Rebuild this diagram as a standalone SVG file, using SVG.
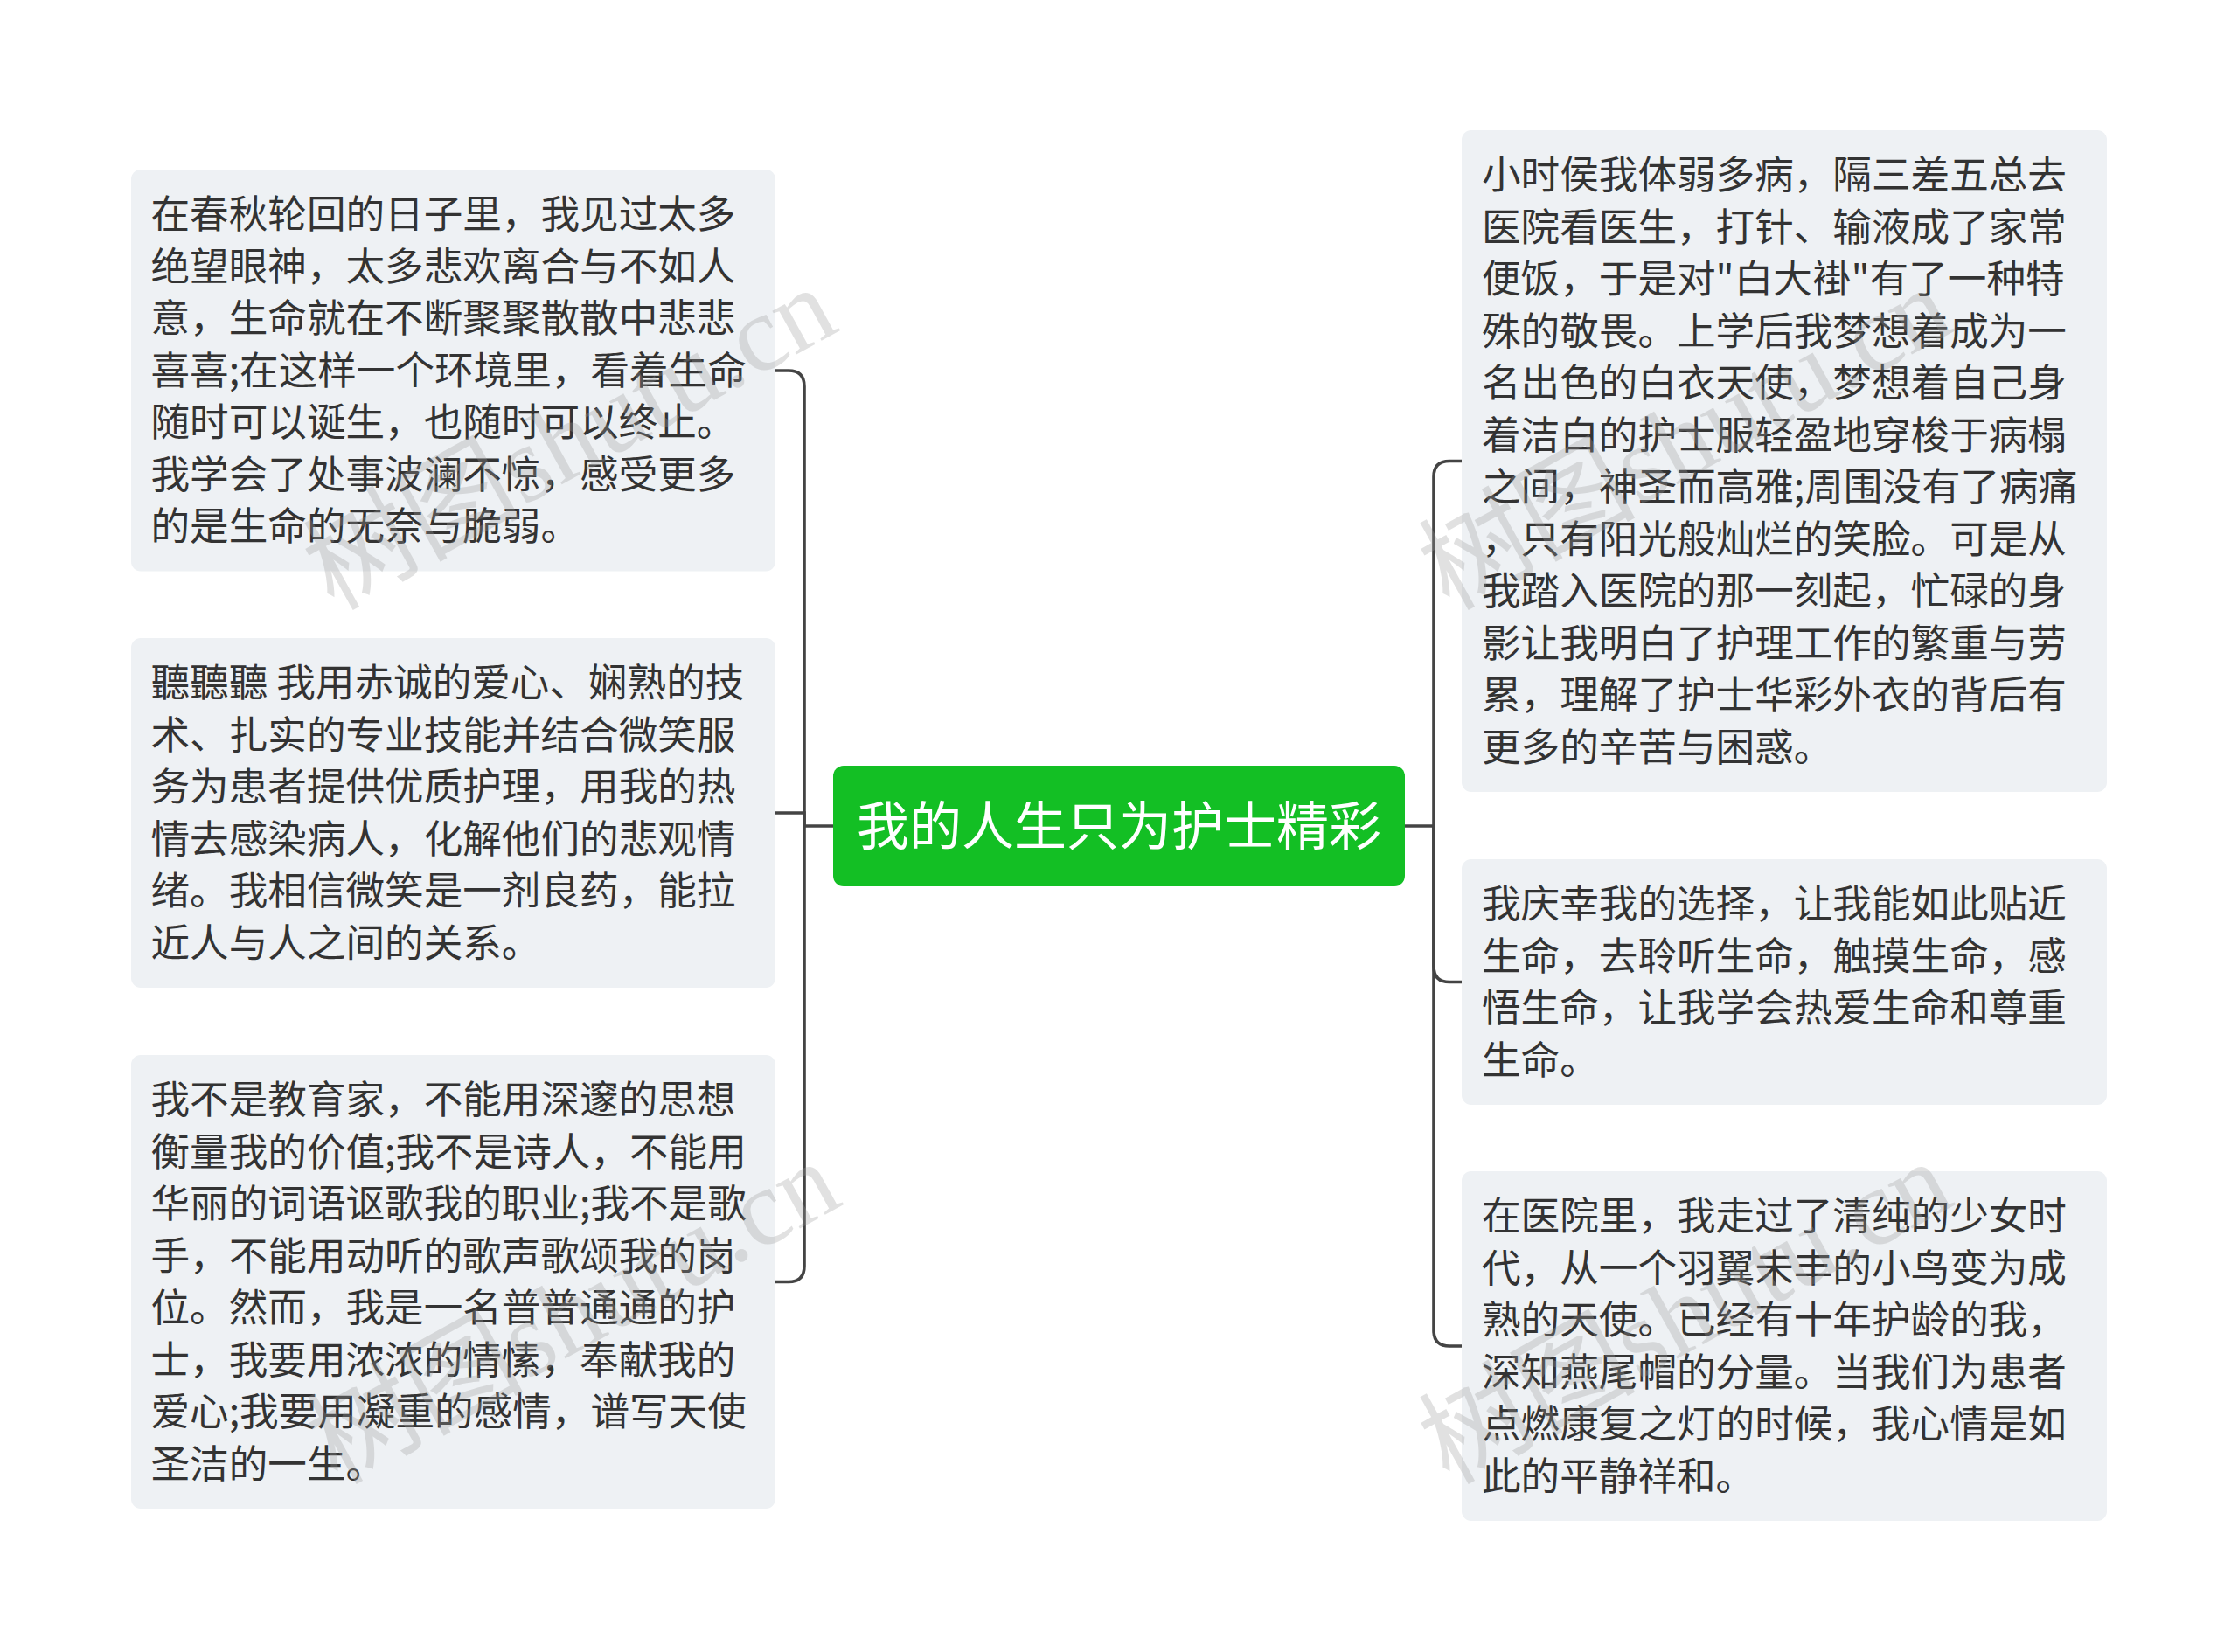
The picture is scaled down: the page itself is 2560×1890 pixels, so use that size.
<svg xmlns="http://www.w3.org/2000/svg" width="2560" height="1890" viewBox="0 0 2560 1890">
<style>
.box{fill:#eef1f4}
.t{font-family:"Noto Sans CJK SC","Noto Sans",sans-serif;font-size:44.6px;fill:#333}
.ct{font-family:"Noto Sans CJK SC","Noto Sans",sans-serif;font-size:60px;fill:#fff;text-anchor:middle}
.c{fill:none;stroke:#444;stroke-width:3.6}
.wm{font-family:"Liberation Serif","Noto Sans CJK SC",serif;font-size:124px;fill:#9a9a9a;fill-opacity:0.3}
</style>
<rect width="2560" height="1890" fill="#fff"/>
<g id="connectors">
<path class="c" d="M953 945 H920"/>
<path class="c" d="M920 945 V442 Q920 424 902 424 H887"/>
<path class="c" d="M920 945 V930 H887"/>
<path class="c" d="M920 945 V1448.5 Q920 1466.5 902 1466.5 H887"/>
<path class="c" d="M1607 945 H1640"/>
<path class="c" d="M1640 945 V545.5 Q1640 527.5 1658 527.5 H1672"/>
<path class="c" d="M1640 945 V1105.5 Q1640 1123.5 1658 1123.5 H1672"/>
<path class="c" d="M1640 945 V1522 Q1640 1540 1658 1540 H1672"/>
</g>
<g id="center">
<rect x="953" y="876" width="654" height="138" rx="12" fill="#13bf24"/>
<text class="ct" x="1280" y="967">我的人生只为护士精彩</text>
</g>
<g id="L1">
<rect class="box" x="150" y="194" width="737" height="459.5" rx="11"/>
<text class="t"><tspan x="172.5" y="261">在春秋轮回的日子里，我见过太多</tspan><tspan x="172.5" y="320.5">绝望眼神，太多悲欢离合与不如人</tspan><tspan x="172.5" y="380">意，生命就在不断聚聚散散中悲悲</tspan><tspan x="172.5" y="439.5">喜喜;在这样一个环境里，看着生命</tspan><tspan x="172.5" y="499">随时可以诞生，也随时可以终止。</tspan><tspan x="172.5" y="558.5">我学会了处事波澜不惊，感受更多</tspan><tspan x="172.5" y="618">的是生命的无奈与脆弱。</tspan></text>
</g>
<g id="L2">
<rect class="box" x="150" y="730" width="737" height="400" rx="11"/>
<text class="t"><tspan x="172.5" y="797">聽聽聽 我用赤诚的爱心、娴熟的技</tspan><tspan x="172.5" y="856.5">术、扎实的专业技能并结合微笑服</tspan><tspan x="172.5" y="916">务为患者提供优质护理，用我的热</tspan><tspan x="172.5" y="975.5">情去感染病人，化解他们的悲观情</tspan><tspan x="172.5" y="1035">绪。我相信微笑是一剂良药，能拉</tspan><tspan x="172.5" y="1094.5">近人与人之间的关系。</tspan></text>
</g>
<g id="L3">
<rect class="box" x="150" y="1207" width="737" height="519" rx="11"/>
<text class="t"><tspan x="172.5" y="1274">我不是教育家，不能用深邃的思想</tspan><tspan x="172.5" y="1333.5">衡量我的价值;我不是诗人，不能用</tspan><tspan x="172.5" y="1393">华丽的词语讴歌我的职业;我不是歌</tspan><tspan x="172.5" y="1452.5">手，不能用动听的歌声歌颂我的岗</tspan><tspan x="172.5" y="1512">位。然而，我是一名普普通通的护</tspan><tspan x="172.5" y="1571.5">士，我要用浓浓的情愫，奉献我的</tspan><tspan x="172.5" y="1631">爱心;我要用凝重的感情，谱写天使</tspan><tspan x="172.5" y="1690.5">圣洁的一生。</tspan></text>
</g>
<g id="R1">
<rect class="box" x="1672" y="149" width="738" height="757" rx="11"/>
<text class="t"><tspan x="1695" y="216">小时侯我体弱多病，隔三差五总去</tspan><tspan x="1695" y="275.5">医院看医生，打针、输液成了家常</tspan><tspan x="1695" y="335">便饭，于是对"白大褂"有了一种特</tspan><tspan x="1695" y="394.5">殊的敬畏。上学后我梦想着成为一</tspan><tspan x="1695" y="454">名出色的白衣天使，梦想着自己身</tspan><tspan x="1695" y="513.5">着洁白的护士服轻盈地穿梭于病榻</tspan><tspan x="1695" y="573">之间，神圣而高雅;周围没有了病痛</tspan><tspan x="1695" y="632.5">，只有阳光般灿烂的笑脸。可是从</tspan><tspan x="1695" y="692">我踏入医院的那一刻起，忙碌的身</tspan><tspan x="1695" y="751.5">影让我明白了护理工作的繁重与劳</tspan><tspan x="1695" y="811">累，理解了护士华彩外衣的背后有</tspan><tspan x="1695" y="870.5">更多的辛苦与困惑。</tspan></text>
</g>
<g id="R2">
<rect class="box" x="1672" y="983" width="738" height="281" rx="11"/>
<text class="t"><tspan x="1695" y="1050">我庆幸我的选择，让我能如此贴近</tspan><tspan x="1695" y="1109.5">生命，去聆听生命，触摸生命，感</tspan><tspan x="1695" y="1169">悟生命，让我学会热爱生命和尊重</tspan><tspan x="1695" y="1228.5">生命。</tspan></text>
</g>
<g id="R3">
<rect class="box" x="1672" y="1340" width="738" height="400" rx="11"/>
<text class="t"><tspan x="1695" y="1407">在医院里，我走过了清纯的少女时</tspan><tspan x="1695" y="1466.5">代，从一个羽翼未丰的小鸟变为成</tspan><tspan x="1695" y="1526">熟的天使。已经有十年护龄的我，</tspan><tspan x="1695" y="1585.5">深知燕尾帽的分量。当我们为患者</tspan><tspan x="1695" y="1645">点燃康复之灯的时候，我心情是如</tspan><tspan x="1695" y="1704.5">此的平静祥和。</tspan></text>
</g>
<g id="watermarks">
<text class="wm" transform="translate(672 538) rotate(-29)" text-anchor="middle">树图shutu.cn</text>
<text class="wm" transform="translate(676 1538) rotate(-29)" text-anchor="middle">树图shutu.cn</text>
<text class="wm" transform="translate(1948 538) rotate(-29)" text-anchor="middle">树图shutu.cn</text>
<text class="wm" transform="translate(1948 1538) rotate(-29)" text-anchor="middle">树图shutu.cn</text>
</g>
</svg>
